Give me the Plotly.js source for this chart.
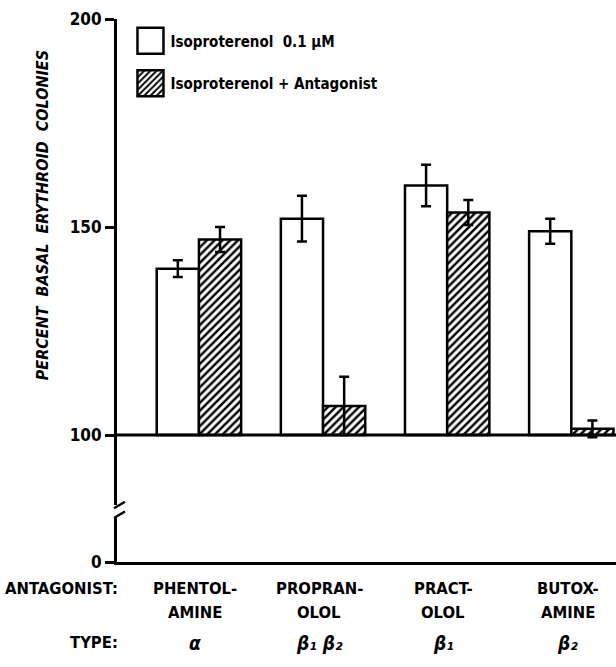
<!DOCTYPE html>
<html>
<head>
<meta charset="utf-8">
<script src="https://cdn.plot.ly/plotly-3.0.1.min.js"></script>
<style>
  html, body { margin: 0; padding: 0; background: #fff; }
  #chart { width: 616px; height: 667px; }
</style>
</head>
<body>
<div id="chart"></div>
<script>
// Antagonists tested, their receptor type, and colony counts (% of basal)
const antagonists = ['phentolamine', 'propranolol', 'practolol', 'butoxamine'];
const antagonistLine1 = ['PHENTOL-', 'PROPRAN-', 'PRACT-', 'BUTOX-'];
const antagonistLine2 = ['AMINE', 'OLOL', 'OLOL', 'AMINE'];
const typeLabels = ['α', 'β₁ β₂', 'β₁', 'β₂'];

const isoOnly = [140, 152, 160, 149];
const isoOnlyErr = [2, 5.5, 5, 3];
const isoAntagonist = [147, 107, 153.5, 101.5];
const isoAntagonistErr = [3, 7, 3, 2];

const seriesNames = ['Isoproterenol  0.1 μM', 'Isoproterenol + Antagonist'];
const BASAL = 100;
const yTicks = [100, 150, 200];

const FONT = '"DejaVu Sans Condensed", "DejaVu Sans", sans-serif';
const INK = '#000';

const barLine = { color: INK, width: 2.5 };
const errStyle = { type: 'data', color: INK, thickness: 2.5, width: 5 };

const traces = [
  {
    type: 'bar', name: seriesNames[0], legendgroup: 'a',
    x: antagonists, y: isoOnly.map(v => v - BASAL), base: BASAL,
    marker: { color: '#fff', line: barLine },
    error_y: Object.assign({ array: isoOnlyErr }, errStyle),
    xaxis: 'x', yaxis: 'y', hoverinfo: 'skip'
  },
  {
    type: 'bar', name: seriesNames[1], legendgroup: 'b',
    x: antagonists, y: isoAntagonist.map(v => v - BASAL), base: BASAL,
    marker: {
      color: '#fff', line: barLine,
      pattern: { shape: '/', fgcolor: INK, bgcolor: '#fff', size: 5.5, solidity: 0.45 }
    },
    error_y: Object.assign({ array: isoAntagonistErr }, errStyle),
    xaxis: 'x', yaxis: 'y', hoverinfo: 'skip'
  },
  // empty trace so the lower (zero) segment of the broken axis exists
  {
    type: 'scatter', mode: 'none', x: [], y: [],
    xaxis: 'x', yaxis: 'y2', showlegend: false, hoverinfo: 'skip'
  }
];

const upperBottom = 0.105;   // upper (100-200) segment of the broken axis
const lowerTop = 0.083;      // lower segment carrying the zero

const labelFont = { family: FONT, size: 16.5, weight: 'bold', color: INK };
const annotations = [];
annotations.push({
  text: 'PERCENT  BASAL  ERYTHROID  COLONIES', textangle: -90,
  xref: 'paper', yref: 'paper', x: -0.15, y: 0.639,
  xanchor: 'center', yanchor: 'middle', showarrow: false,
  font: { family: FONT, size: 16, weight: 'bold', style: 'italic', color: INK }
});
annotations.push({
  text: 'ANTAGONIST:', xref: 'paper', yref: 'paper', x: 0.006, y: -0.0497,
  xanchor: 'right', yanchor: 'middle', showarrow: false, font: labelFont
});
annotations.push({
  text: 'TYPE:', xref: 'paper', yref: 'paper', x: 0.006, y: -0.149,
  xanchor: 'right', yanchor: 'middle', showarrow: false, font: labelFont
});
antagonists.forEach((a, i) => {
  annotations.push({
    text: antagonistLine1[i], xref: 'x', yref: 'paper', x: i - 0.03, y: -0.0497,
    xanchor: 'center', yanchor: 'middle', showarrow: false, font: labelFont
  });
  annotations.push({
    text: antagonistLine2[i], xref: 'x', yref: 'paper', x: i - 0.03, y: -0.0939,
    xanchor: 'center', yanchor: 'middle', showarrow: false, font: labelFont
  });
  annotations.push({
    text: typeLabels[i], xref: 'x', yref: 'paper', x: i - 0.03, y: -0.149,
    xanchor: 'center', yanchor: 'middle', showarrow: false,
    font: { family: FONT, size: 19, weight: 'bold', style: 'italic', color: INK }
  });
});

const shapes = [
  // baseline at 100 %
  { type: 'line', xref: 'paper', yref: 'y', x0: 0, x1: 1, y0: BASAL, y1: BASAL,
    line: { color: INK, width: 3 }, layer: 'above' },
  // axis break marks
  { type: 'line', xref: 'paper', yref: 'paper', x0: -0.006, x1: 0.016, y0: 0.099, y1: 0.111,
    line: { color: INK, width: 2.5 } },
  { type: 'line', xref: 'paper', yref: 'paper', x0: -0.006, x1: 0.016, y0: 0.081, y1: 0.093,
    line: { color: INK, width: 2.5 } }
];

const axisBase = {
  showline: true, linecolor: INK, linewidth: 3,
  ticks: 'outside', ticklen: 9, tickwidth: 3, tickcolor: INK,
  showgrid: false, zeroline: false, fixedrange: true,
  tickfont: { family: FONT, size: 17, weight: 'bold', color: INK }
};

const layout = {
  width: 616, height: 667,
  margin: { l: 117, r: 0, t: 19, b: 105, pad: 0 },
  paper_bgcolor: '#fff', plot_bgcolor: '#fff',
  barmode: 'group', bargap: 0.32, bargroupgap: 0,
  showlegend: true,
  legend: {
    x: 0.027, y: 0.99, xanchor: 'left', yanchor: 'top',
    bgcolor: 'rgba(0,0,0,0)', borderwidth: 0,
    traceorder: 'grouped', tracegroupgap: 20,
    font: { family: FONT, size: 15, weight: 'bold', color: INK }
  },
  xaxis: {
    domain: [0, 1], range: [-0.66, 3.36], anchor: 'y2',
    showline: true, linecolor: INK, linewidth: 3,
    ticks: '', showticklabels: false, showgrid: false, zeroline: false, fixedrange: true
  },
  yaxis: Object.assign({}, axisBase, {
    domain: [upperBottom, 1], range: [83.2, 200], anchor: 'x',
    tickvals: yTicks, ticktext: yTicks.map(String)
  }),
  yaxis2: Object.assign({}, axisBase, {
    domain: [0, lowerTop], range: [0, 10], anchor: 'x',
    tickvals: [0], ticktext: ['0']
  }),
  annotations: annotations,
  shapes: shapes
};

// enlarge the legend swatches to match the lettering
function enlargeSwatches(gd) {
  gd.querySelectorAll('.legend .legendpoints path').forEach(p => {
    p.setAttribute('d', 'M13,13H-13V-13H13Z');
  });
}

Plotly.newPlot('chart', traces, layout, { displayModeBar: false, staticPlot: true })
  .then(gd => {
    enlargeSwatches(gd);
    gd.on('plotly_afterplot', () => enlargeSwatches(gd));
  });
</script>
</body>
</html>
